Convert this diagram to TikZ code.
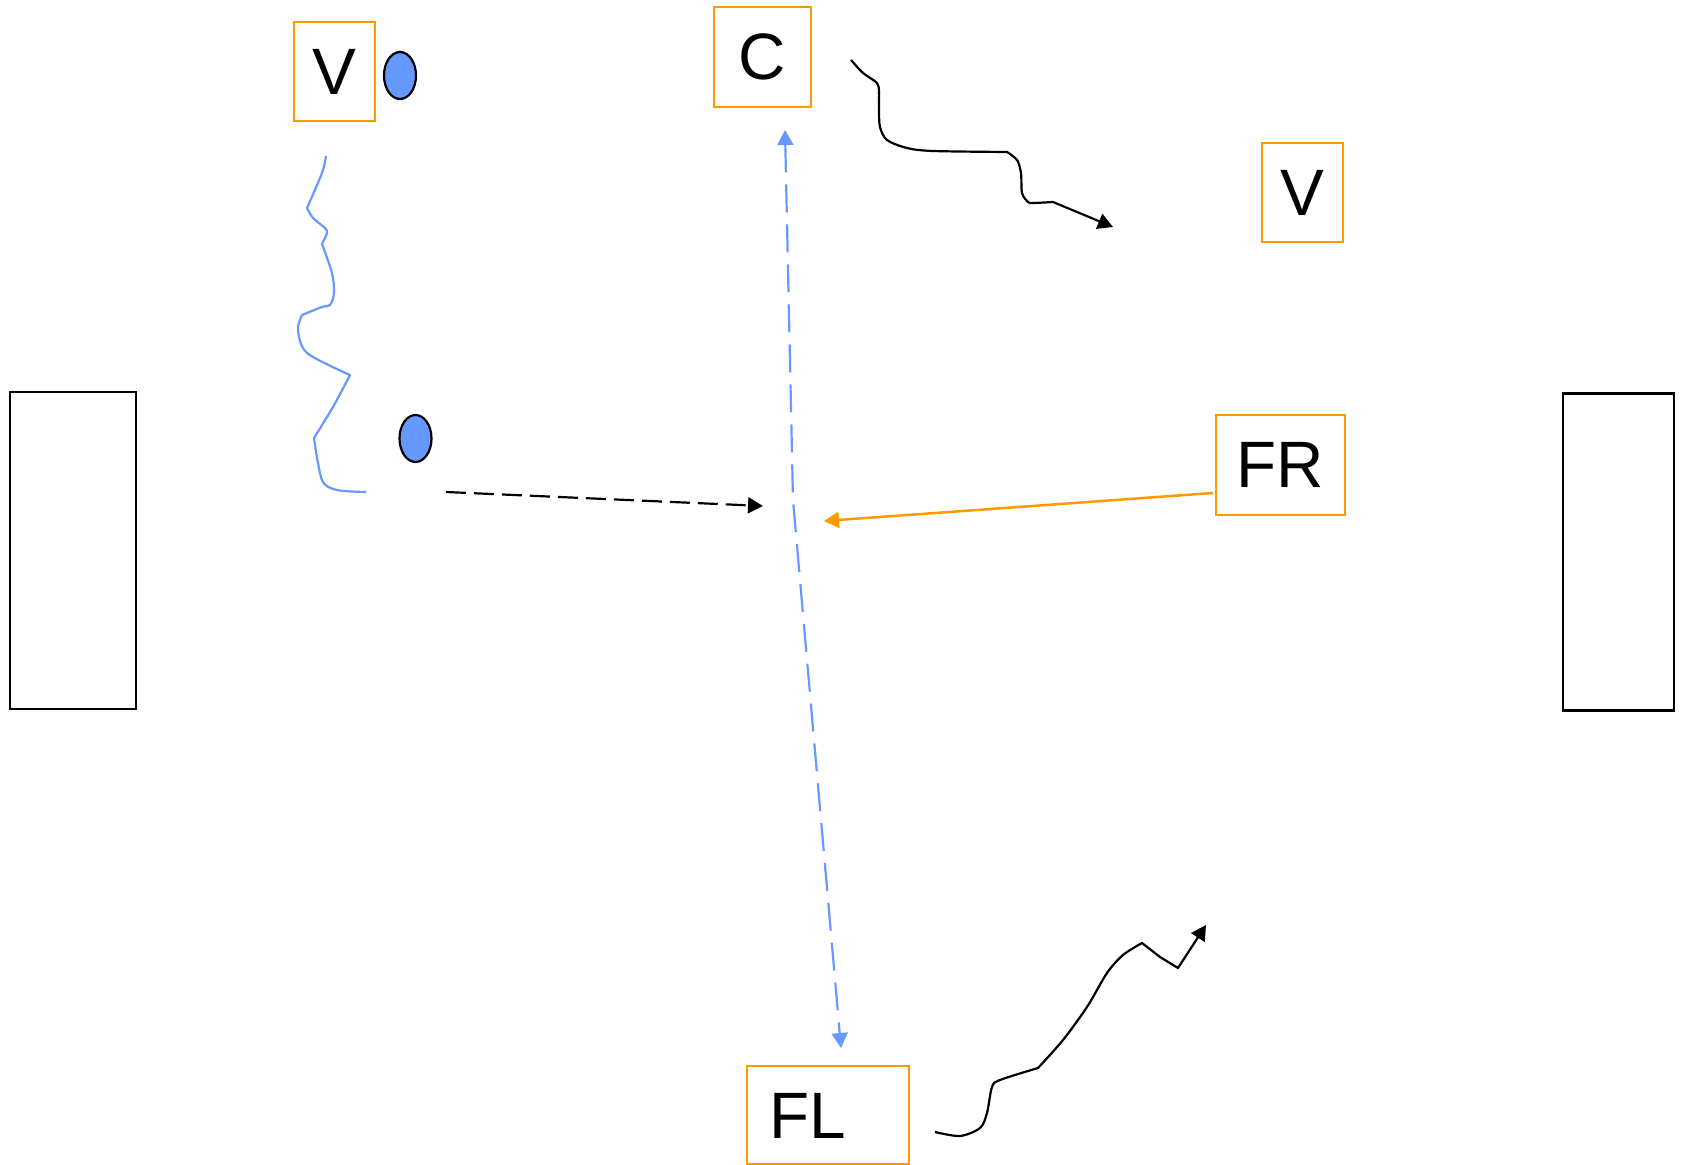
\documentclass[tikz,border=0pt]{standalone}
\usepackage{fontspec}
\setmainfont{Liberation Sans}
\usetikzlibrary{arrows.meta,shapes.geometric}
\definecolor{myorange}{RGB}{255,153,0}
\definecolor{myblue}{RGB}{102,153,255}
\begin{document}
\begin{tikzpicture}[x=0.5pt,y=-0.5pt,
  lbox/.style={draw=myorange, line width=1.25pt, inner sep=0pt, font=\fontsize{32.8}{39}\selectfont},
  lbl/.style={inner sep=0pt, font=\fontsize{32.8}{39}\selectfont},
  dot/.style={ellipse, draw=black, fill=myblue, line width=1.1pt, inner sep=0pt, minimum width=16pt, minimum height=23.5pt},
  wall/.style={draw=black, line width=1.3pt, inner sep=0pt, minimum height=158.5pt},
  tip/.style={-{Triangle[length=7.5pt,width=8pt]}},
  wave/.style={line width=1.1pt, line join=round},
]
\useasboundingbox (0,0) rectangle (1682,1165);

% walls
\node[wall, minimum width=63pt] (wl) at (73,550.5) {};
\node[wall, minimum width=55.5pt] (wr) at (1618.5,552) {};

% labelled boxes
\node[lbox, minimum width=40.5pt, minimum height=49.5pt] (v1) at (334.5,71.5) {V};
\node[lbox, minimum width=48.5pt, minimum height=50pt] (c) at (762.5,57) {C};
\node[lbox, minimum width=40.5pt, minimum height=49.5pt] (v2) at (1302.5,192.5) {V};
\node[lbox, minimum width=64.5pt, minimum height=50pt] (fr) at (1280.5,465) {FR};
\node[lbox, minimum width=81pt, minimum height=49pt] (fl) at (828,1115) {};
\node[lbl] (fltext) at (808,1116) {FL};

% dots
\node[dot] (e1) at (400,75.5) {};
\node[dot] (e2) at (415.5,438.5) {};

% endpoints
\coordinate (ctop) at (785,130);
\coordinate (cmid) at (793,500);
\coordinate (cbot) at (841,1048);
\coordinate (ds) at (446,492);
\coordinate (de) at (763,506);
\coordinate (os) at (1213,493);
\coordinate (oe) at (824,521);

% blue two-way dashed
\draw[myblue, line width=1.1pt, dash pattern=on 14pt off 6pt,
  {Triangle[length=7.5pt,width=8pt]}-{Triangle[length=7.5pt,width=8pt]}]
  (ctop) -- (cmid) -- (cbot);

% black dashed arrow
\draw[black, line width=1.1pt, dash pattern=on 10pt off 4pt, tip] (ds) -- (de);

% orange arrow
\draw[myorange, line width=1.25pt, tip] (os) -- (oe);

% blue wavy line
\draw[myblue, wave]
  plot[smooth] coordinates {(326,156) (322,173) (307,208)}
  -- plot[smooth] coordinates {(307,208) (313,218) (325,228) (327,233) (322,244)}
  -- plot[smooth] coordinates {(322,244) (332,273) (334,293) (330,305) (322,307) (302,315)}
  -- plot[smooth] coordinates {(302,315) (298,330) (307,353) (350,375)}
  -- plot[smooth] coordinates {(350,375) (333,407) (314,438)}
  -- plot[smooth] coordinates {(314,438) (322,480) (337,490) (366,492)};

% top black wavy arrow
\draw[black, wave, tip]
  plot[smooth] coordinates {(851,60) (863,73) (877,83) (879,92) (879,110) (880,127) (887,140) (907,148) (933,151) (1007,152)}
  -- plot[smooth] coordinates {(1007,152) (1017,160) (1021,173) (1022,193) (1028,202) (1033,203) (1053,202)}
  -- (1113,227);

% bottom black wavy arrow
\draw[black, wave, tip]
  plot[smooth] coordinates {(935,1132) (960,1136) (980,1128) (987,1113) (992,1087) (1000,1080) (1038,1068)}
  -- plot[smooth] coordinates {(1038,1068) (1063,1040) (1087,1007) (1107,973) (1123,955) (1142,943)}
  -- (1160,957) -- (1178,968) -- (1206,925);
\end{tikzpicture}
\end{document}
